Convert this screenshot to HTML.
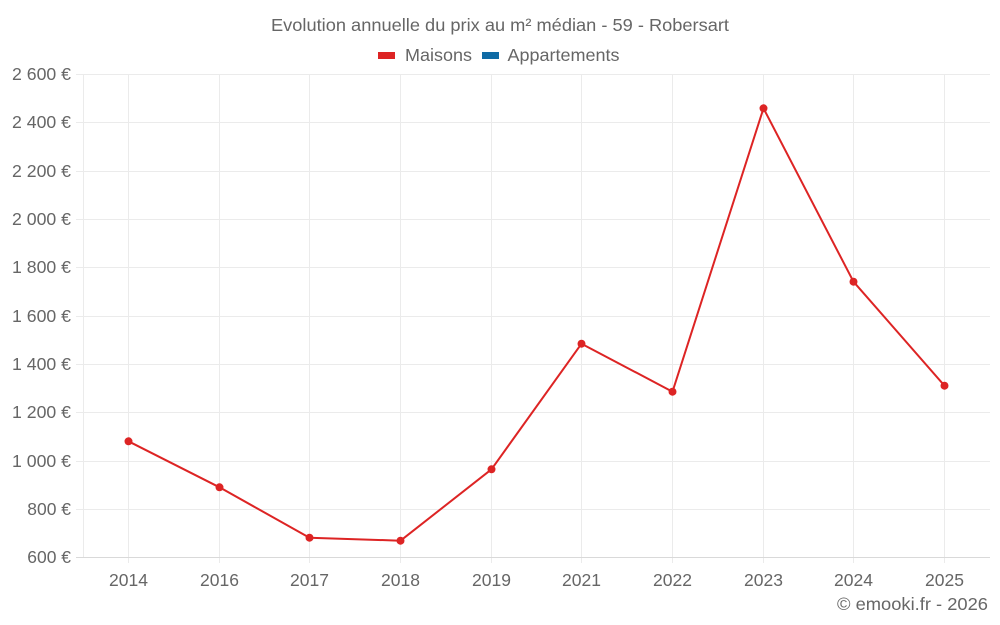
<!DOCTYPE html>
<html>
<head>
<meta charset="utf-8">
<style>
html,body{margin:0;padding:0;background:#fff;}
svg{display:block;}
text{font-family:"Liberation Sans",sans-serif;fill:#666;}
</style>
</head>
<body>
<svg width="1000" height="625" viewBox="0 0 1000 625" xmlns="http://www.w3.org/2000/svg">
  <!-- title -->
  <text x="271" y="31" font-size="17.5" textLength="458" lengthAdjust="spacingAndGlyphs">Evolution annuelle du prix au m² médian - 59 - Robersart</text>
  <!-- legend -->
  <rect x="378" y="52" width="17" height="7" fill="#dd2424"/>
  <text x="405" y="61" font-size="17.5" textLength="67" lengthAdjust="spacingAndGlyphs">Maisons</text>
  <rect x="482" y="52" width="17" height="7" fill="#0f6ba5"/>
  <text x="507.5" y="61" font-size="17.5" textLength="112" lengthAdjust="spacingAndGlyphs">Appartements</text>

  <!-- horizontal grid -->
  <g stroke="#ebebeb" stroke-width="1">
    <line x1="76" y1="74.5" x2="990" y2="74.5"/>
    <line x1="76" y1="122.5" x2="990" y2="122.5"/>
    <line x1="76" y1="171.5" x2="990" y2="171.5"/>
    <line x1="76" y1="219.5" x2="990" y2="219.5"/>
    <line x1="76" y1="267.5" x2="990" y2="267.5"/>
    <line x1="76" y1="316.5" x2="990" y2="316.5"/>
    <line x1="76" y1="364.5" x2="990" y2="364.5"/>
    <line x1="76" y1="412.5" x2="990" y2="412.5"/>
    <line x1="76" y1="461.5" x2="990" y2="461.5"/>
    <line x1="76" y1="509.5" x2="990" y2="509.5"/>
  </g>
  <!-- vertical grid -->
  <g stroke="#ebebeb" stroke-width="1">
    <line x1="83.5" y1="74" x2="83.5" y2="557"/>
    <line x1="128.5" y1="74" x2="128.5" y2="563"/>
    <line x1="219.5" y1="74" x2="219.5" y2="563"/>
    <line x1="309.5" y1="74" x2="309.5" y2="563"/>
    <line x1="400.5" y1="74" x2="400.5" y2="563"/>
    <line x1="491.5" y1="74" x2="491.5" y2="563"/>
    <line x1="581.5" y1="74" x2="581.5" y2="563"/>
    <line x1="672.5" y1="74" x2="672.5" y2="563"/>
    <line x1="763.5" y1="74" x2="763.5" y2="563"/>
    <line x1="853.5" y1="74" x2="853.5" y2="563"/>
    <line x1="944.5" y1="74" x2="944.5" y2="563"/>
  </g>
  <!-- x axis line -->
  <line x1="76" y1="557.5" x2="990" y2="557.5" stroke="#d9d9d9" stroke-width="1"/>

  <!-- y labels -->
  <g font-size="17.5">
    <text x="12" y="80" textLength="59" lengthAdjust="spacingAndGlyphs">2 600 €</text>
    <text x="12" y="128" textLength="59" lengthAdjust="spacingAndGlyphs">2 400 €</text>
    <text x="12" y="177" textLength="59" lengthAdjust="spacingAndGlyphs">2 200 €</text>
    <text x="12" y="225" textLength="59" lengthAdjust="spacingAndGlyphs">2 000 €</text>
    <text x="12" y="273" textLength="59" lengthAdjust="spacingAndGlyphs">1 800 €</text>
    <text x="12" y="322" textLength="59" lengthAdjust="spacingAndGlyphs">1 600 €</text>
    <text x="12" y="370" textLength="59" lengthAdjust="spacingAndGlyphs">1 400 €</text>
    <text x="12" y="418" textLength="59" lengthAdjust="spacingAndGlyphs">1 200 €</text>
    <text x="12" y="467" textLength="59" lengthAdjust="spacingAndGlyphs">1 000 €</text>
    <text x="27.3" y="515" textLength="43.7" lengthAdjust="spacingAndGlyphs">800 €</text>
    <text x="27.3" y="563" textLength="43.7" lengthAdjust="spacingAndGlyphs">600 €</text>
  </g>
  <!-- x labels -->
  <g font-size="17.5" text-anchor="middle">
    <text x="128.5" y="586">2014</text>
    <text x="219.5" y="586">2016</text>
    <text x="309.5" y="586">2017</text>
    <text x="400.5" y="586">2018</text>
    <text x="491.5" y="586">2019</text>
    <text x="581.5" y="586">2021</text>
    <text x="672.5" y="586">2022</text>
    <text x="763.5" y="586">2023</text>
    <text x="853.5" y="586">2024</text>
    <text x="944.5" y="586">2025</text>
  </g>

  <!-- series -->
  <polyline fill="none" stroke="#dd2424" stroke-width="2" stroke-linejoin="round"
    points="128.5,441.3 219.5,487.3 309.5,537.7 400.5,540.7 491.5,469.3 581.5,343.7 672.5,391.7 763.5,108.3 853.5,281.7 944.5,385.7"/>
  <g fill="#dd2424">
    <circle cx="128.5" cy="441.3" r="4"/>
    <circle cx="219.5" cy="487.3" r="4"/>
    <circle cx="309.5" cy="537.7" r="4"/>
    <circle cx="400.5" cy="540.7" r="4"/>
    <circle cx="491.5" cy="469.3" r="4"/>
    <circle cx="581.5" cy="343.7" r="4"/>
    <circle cx="672.5" cy="391.7" r="4"/>
    <circle cx="763.5" cy="108.3" r="4"/>
    <circle cx="853.5" cy="281.7" r="4"/>
    <circle cx="944.5" cy="385.7" r="4"/>
  </g>

  <!-- footer -->
  <text x="837" y="610" font-size="17.5" textLength="151" lengthAdjust="spacingAndGlyphs">© emooki.fr - 2026</text>
</svg>
</body>
</html>
